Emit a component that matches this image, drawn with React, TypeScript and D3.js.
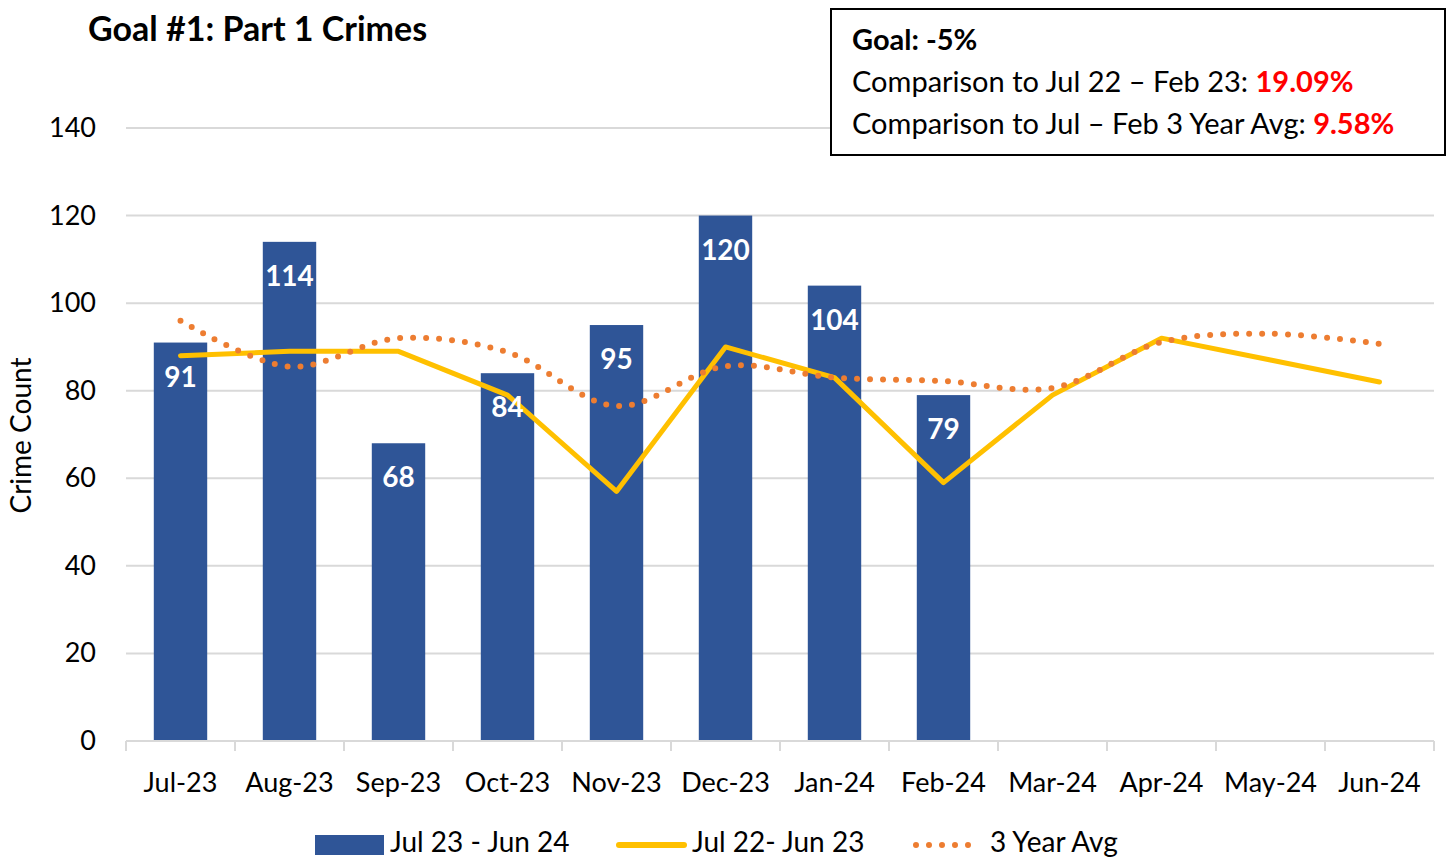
import React from "react";
import * as d3 from "d3";

const categories = ["Jul-23","Aug-23","Sep-23","Oct-23","Nov-23","Dec-23","Jan-24","Feb-24","Mar-24","Apr-24","May-24","Jun-24"];
const current: (number | null)[] = [91,114,68,84,95,120,104,79,null,null,null,null];
const prior = [88,89,89,79,57,90,83,59,79,92,87,82];
const avg3 = [96,85.5,92,88.8,76.5,85.6,83,82.2,80.6,91.1,93,90.7];
const yTicks = [0,20,40,60,80,100,120,140];

const W = 1450, H = 859;
const FONT = "Lato, 'Open Sans', sans-serif";

export default function App() {
  const left = 126, right = 1434, top = 128, bottom = 741;
  const x = d3.scaleBand<string>().domain(categories).range([left, right]).paddingInner(0.51).paddingOuter(0.255);
  const xc = (c: string) => (x(c) as number) + x.bandwidth() / 2;
  const y = d3.scaleLinear().domain([0, 140]).range([bottom, top]);
  const band = (right - left) / categories.length;

  const priorLine = d3.line<number>().x((_, i) => xc(categories[i])).y(d => y(d))(prior) as string;
  const avgLine = d3.line<number>().x((_, i) => xc(categories[i])).y(d => y(d)).curve(d3.curveCatmullRom.alpha(0.5))(avg3) as string;

  return (
    <svg width={W} height={H} style={{ position: "absolute", left: 0, top: 0, background: "#fff" }} fontFamily={FONT}>
      <text x={88} y={41} fontSize={34} fontWeight="bold" fill="#000">Goal #1: Part 1 Crimes</text>

      {yTicks.map(t => (
        <g key={t}>
          {t > 0 && <line x1={left} x2={right} y1={y(t)} y2={y(t)} stroke="#d9d9d9" strokeWidth={2} />}
          <text x={96} y={y(t) + 9} fontSize={27} textAnchor="end" fill="#000">{t}</text>
        </g>
      ))}
      <text transform={`translate(31,${(top + bottom) / 2 + 1}) rotate(-90)`} fontSize={28} textAnchor="middle" fill="#000">Crime Count</text>

      {categories.map((c, i) => current[i] != null && (
        <rect key={c} x={x(c)} y={y(current[i] as number)} width={x.bandwidth()} height={bottom - y(current[i] as number)} fill="#2f5597" />
      ))}

      <line x1={left} x2={right} y1={bottom} y2={bottom} stroke="#d9d9d9" strokeWidth={2} />
      {d3.range(categories.length + 1).map(i => (
        <line key={i} x1={left + i * band} x2={left + i * band} y1={bottom} y2={bottom + 10} stroke="#d9d9d9" strokeWidth={2} />
      ))}
      {categories.map(c => (
        <text key={c} x={xc(c)} y={792} fontSize={27} textAnchor="middle" fill="#000">{c}</text>
      ))}

      <path d={priorLine} fill="none" stroke="#ffc000" strokeWidth={5} strokeLinejoin="round" strokeLinecap="round" />
      <path d={avgLine} fill="none" stroke="#ed7d31" strokeWidth={6} strokeDasharray="0 13" strokeLinecap="round" />

      {categories.map((c, i) => current[i] != null && (
        <text key={c} x={xc(c)} y={y(current[i] as number) + 44} fontSize={28} fontWeight="bold" textAnchor="middle" fill="#fff">{current[i]}</text>
      ))}

      <rect x={831} y={9} width={614} height={146} fill="#fff" stroke="#000" strokeWidth={2} />
      <text x={852} y={50} fontSize={29} fontWeight="bold" fill="#000">Goal: -5%</text>
      <text x={852} y={92} fontSize={29} fill="#000">Comparison to Jul 22 – Feb 23: <tspan fill="#ff0000" fontWeight="bold">19.09%</tspan></text>
      <text x={852} y={134} fontSize={29} fill="#000">Comparison to Jul – Feb 3 Year Avg: <tspan fill="#ff0000" fontWeight="bold">9.58%</tspan></text>

      <rect x={315} y={835} width={69} height={20} fill="#2f5597" />
      <text x={390} y={852} fontSize={28} fill="#000">Jul 23 - Jun 24</text>
      <line x1={619} x2={684} y1={845} y2={845} stroke="#ffc000" strokeWidth={6} strokeLinecap="round" />
      <text x={692} y={852} fontSize={28} fill="#000">Jul 22- Jun 23</text>
      <line x1={916} x2={972} y1={845} y2={845} stroke="#ed7d31" strokeWidth={6} strokeDasharray="0 13" strokeLinecap="round" />
      <text x={990} y={852} fontSize={28} fill="#000">3 Year Avg</text>
    </svg>
  );
}
